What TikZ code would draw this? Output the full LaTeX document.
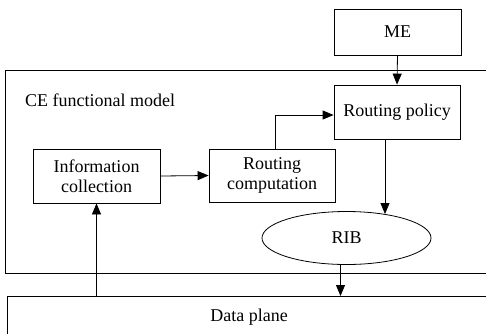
\documentclass[tikz,border=0pt]{standalone}
\usepackage{fontspec}
\setmainfont{Liberation Serif}
\usetikzlibrary{arrows.meta,shapes.geometric}
\tikzset{
  box/.style={draw,line width=0.8pt,rectangle,align=center,inner sep=0pt,font=\fontsize{18}{20}\selectfont},
  frame/.style={draw,line width=0.8pt},
  arr/.style={line width=0.8pt,-{Triangle[length=11pt,width=9pt]}},
  lbl/.style={font=\fontsize{18}{20}\selectfont,inner sep=0pt}
}
\begin{document}
\begin{tikzpicture}[x=1pt,y=-1pt]
\useasboundingbox (0,0) rectangle (486,333);
% CE frame
\coordinate (cetr) at (486,70);
\coordinate (cetl) at (5,70);
\coordinate (cebl) at (5,273);
\coordinate (cebr) at (486,273);
\draw[frame] (cetr) -- (cetl) -- (cebl) -- (cebr);
% data plane frame
\coordinate (dptr) at (486,296);
\coordinate (dptl) at (7,296);
\coordinate (dpbl) at (7,334);
\draw[frame] (dptr) -- (dptl) -- (dpbl);
\node[lbl] (dp) at (249,317) {Data plane};
\node[lbl,anchor=west] (cel) at (25,100) {CE functional model};
% nodes
\node[box,minimum width=127pt,minimum height=46pt] (me) at (397.5,32) {ME};
\node[box,minimum width=126pt,minimum height=54pt] (rp) at (397,112) {Routing policy};
\node[box,minimum width=127pt,minimum height=54pt] (ic) at (96.5,176) {Information\\collection};
\node[box,minimum width=126pt,minimum height=53pt] (rc) at (272,175.5) {Routing\\computation};
\node[box,ellipse,minimum width=169pt,minimum height=53pt] (rib) at (346.5,238) {RIB};
% connectors
\draw[arr] (me.south) -- (rp.north);
\draw[arr] (ic.east) -- (rc.west);
\draw[arr] ([xshift=3pt]rc.north) |- ([yshift=-3pt]rp.west);
\draw[arr] ([xshift=-12pt]rp.south) -- ([xshift=-12pt]rp.south |- rib.32);
\draw[arr] ([xshift=-6pt]rib.south) -- ([xshift=-6pt]rib.south |- dptl);
\draw[arr] (ic.south |- dptl) -- (ic.south);
\end{tikzpicture}
\end{document}
